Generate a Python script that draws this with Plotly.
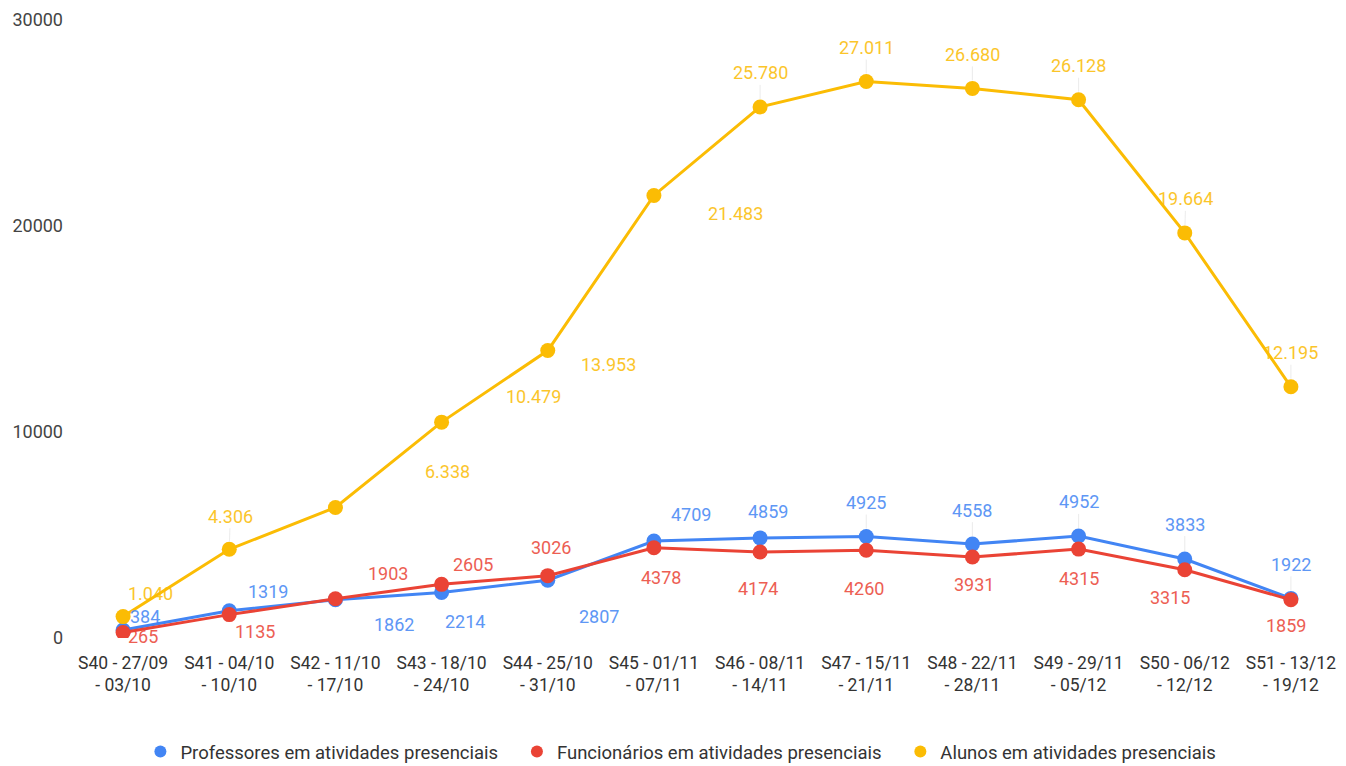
import plotly.graph_objects as go

categories = ["S40 - 27/09<br>- 03/10", "S41 - 04/10<br>- 10/10", "S42 - 11/10<br>- 17/10",
              "S43 - 18/10<br>- 24/10", "S44 - 25/10<br>- 31/10", "S45 - 01/11<br>- 07/11",
              "S46 - 08/11<br>- 14/11", "S47 - 15/11<br>- 21/11", "S48 - 22/11<br>- 28/11",
              "S49 - 29/11<br>- 05/12", "S50 - 06/12<br>- 12/12", "S51 - 13/12<br>- 19/12"]
professores = [384, 1319, 1862, 2214, 2807, 4709, 4859, 4925, 4558, 4952, 3833, 1922]
funcionarios = [265, 1135, 1903, 2605, 3026, 4378, 4174, 4260, 3931, 4315, 3315, 1859]
alunos = [1040, 4306, 6338, 10479, 13953, 21483, 25780, 27011, 26680, 26128, 19664, 12195]

prof_labels = [str(v) for v in professores]
func_labels = [str(v) for v in funcionarios]
alunos_labels = [f"{v:,}".replace(",", ".") for v in alunos]

# label offsets (pixels, screen coords) and leader-line flags
alunos_off = [(27, -23), (1, -33), (112, -36), (92, -26), (61, 14), (82, 18),
              (0, -34), (0, -34), (0, -34), (0, -34), (1, -34), (0, -34)]
alunos_lead = [0, 1, 0, 0, 0, 0, 1, 1, 1, 1, 1, 1]
prof_off = [(22, -14), (39, -19), (59, 25), (23, 29), (51, 36), (37, -26),
            (8, -26), (0, -34), (0, -34), (0, -34), (0, -35), (0, -34)]
prof_lead = [0, 0, 0, 0, 0, 0, 0, 1, 1, 1, 1, 1]
func_off = [(20, 4), (26, 17), (53, -25), (31, -20), (3, -28), (7, 30),
            (-2, 36), (-2, 38), (2, 27), (0, 29), (-15, 28), (-5, 26)]
func_lead = [0] * 12

BLUE = "#4285F4"
RED = "#EA4335"
YELLOW = "#FBBC04"
FONT = "Roboto"
PAD = "\u00a0\u00a0\u00a0"

fig = go.Figure()
series = [
    ("Professores em atividades presenciais", professores, prof_labels, prof_off, prof_lead, BLUE),
    ("Funcionários em atividades presenciais", funcionarios, func_labels, func_off, func_lead, RED),
    ("Alunos em atividades presenciais", alunos, alunos_labels, alunos_off, alunos_lead, YELLOW),
]

for name, vals, labels, offs, leads, color in series:
    fig.add_trace(go.Scatter(x=categories, y=vals, mode="lines+markers", name=name,
                             line=dict(color=color, width=3),
                             marker=dict(color=color, size=15),
                             showlegend=False, hoverinfo="x+y"))
    # legend entry: dot only
    fig.add_trace(go.Scatter(x=[None], y=[None], mode="markers", name=name + PAD,
                             marker=dict(color=color, size=15), showlegend=True))

annotations = []
for name, vals, labels, offs, leads, color in series:
    for c, v, t, (dx, dy), ld in zip(categories, vals, labels, offs, leads):
        annotations.append(dict(
            x=c, y=v, xref="x", yref="y", text=t, showarrow=True,
            ax=dx, ay=dy, axref="pixel", ayref="pixel",
            arrowhead=0, arrowwidth=0.8,
            arrowcolor="#e3e3e3" if ld else "rgba(0,0,0,0)",
            standoff=8, startstandoff=0,
            font=dict(family=FONT, size=18, color=color), opacity=0.85))

fig.update_layout(
    width=1346, height=776,
    margin=dict(l=70, r=2, t=20, b=138),
    paper_bgcolor="white", plot_bgcolor="white",
    font=dict(family=FONT, size=18, color="#444444"),
    xaxis=dict(type="category", range=[-0.5, 11.5], automargin=False,
               showgrid=False, zeroline=False, showline=False, ticklabelstandoff=12,
               tickfont=dict(family=FONT, size=17.5, color="#333333"), ticks=""),
    yaxis=dict(range=[0, 30000], tickvals=[0, 10000, 20000, 30000], automargin=False,
               ticktext=["0", "10000", "20000", "30000"], ticklabelstandoff=6,
               showgrid=False, zeroline=False, showline=False,
               tickfont=dict(family=FONT, size=18, color="#444444")),
    legend=dict(orientation="h", x=0.485, xanchor="center", y=-0.1845, yanchor="middle",
                font=dict(family=FONT, size=18.5, color="#333333"), itemsizing="constant"),
    annotations=annotations,
)

fig.write_html("out.html", config={"displayModeBar": False},
               post_script="document.body.style.margin='0';document.documentElement.style.overflow='hidden';")
